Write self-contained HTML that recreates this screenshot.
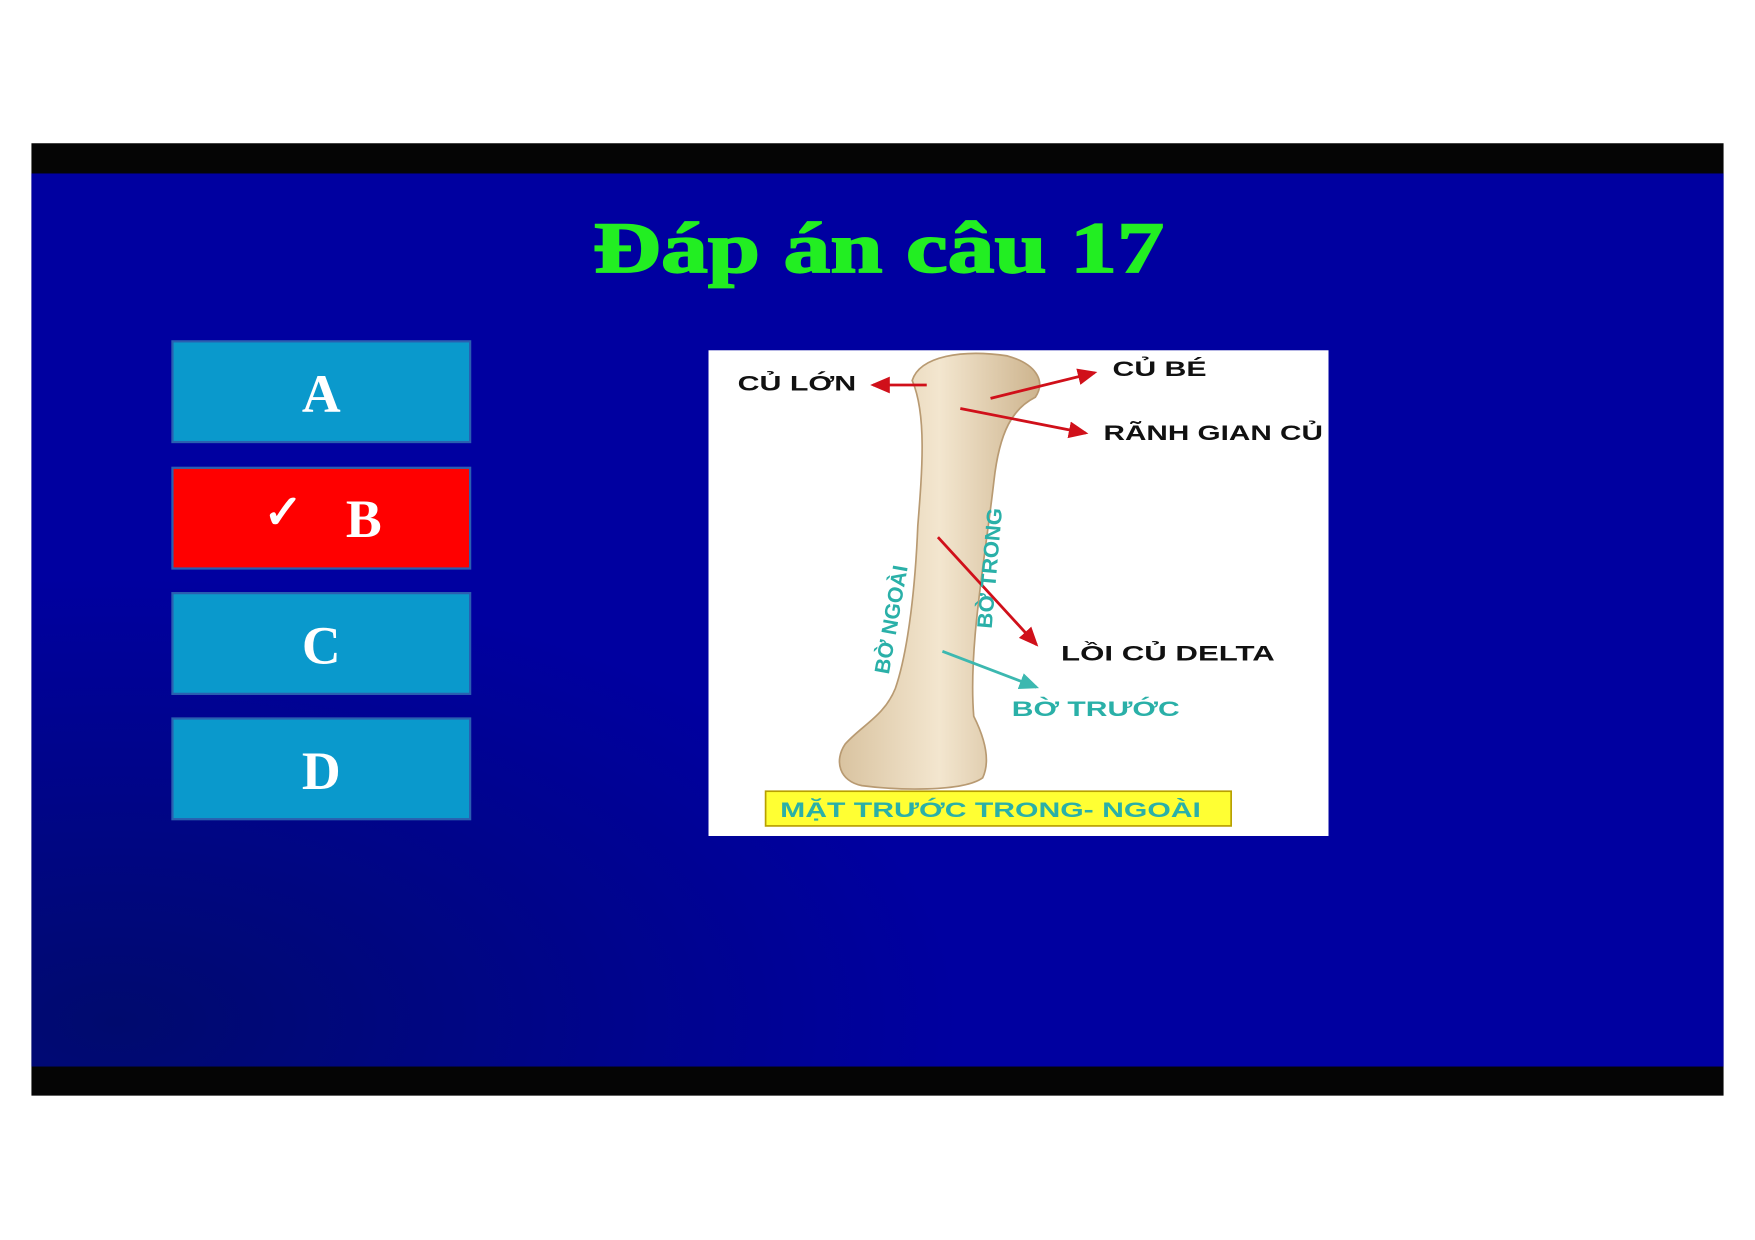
<!DOCTYPE html>
<html><head><meta charset="utf-8"><style>
html,body{margin:0;padding:0;background:#fff;}
svg{display:block;}
</style></head><body>
<svg width="1755" height="1240" viewBox="0 0 1568 1108" xmlns="http://www.w3.org/2000/svg">
<defs>
<radialGradient id="bg" cx="0.05" cy="0.95" r="0.5">
<stop offset="0" stop-color="#000a6e"/><stop offset="1" stop-color="#0000a0"/>
</radialGradient>
<linearGradient id="bone" x1="0" y1="0" x2="1" y2="0">
<stop offset="0" stop-color="#d9c3a0"/><stop offset="0.5" stop-color="#f3e6cf"/><stop offset="1" stop-color="#cdb48e"/>
</linearGradient>
<marker id="ar" markerWidth="8" markerHeight="8" refX="6" refY="3" orient="auto"><path d="M0,0 L7,3 L0,6 z" fill="#d0101a"/></marker>
<marker id="at" markerWidth="8" markerHeight="8" refX="6" refY="3" orient="auto"><path d="M0,0 L7,3 L0,6 z" fill="#3cb8b0"/></marker>
</defs>
<rect x="28" y="128" width="1512" height="851" fill="#050505"/>
<rect x="28" y="155" width="1512" height="798" fill="url(#bg)"/>
<text x="530" y="243" textLength="510" lengthAdjust="spacingAndGlyphs" font-family="Liberation Serif, serif" font-weight="bold" font-size="64" fill="#22ee22" stroke="#22ee22" stroke-width="1.5">Đáp án câu 17</text>

<g font-family="Liberation Serif, serif" font-weight="bold" font-size="48" fill="#fff" text-anchor="middle">
<rect x="154" y="305" width="266" height="90" fill="#0a99cc" stroke="#2a5fb0" stroke-width="2"/>
<text x="287" y="368">A</text>
<rect x="154" y="418" width="266" height="90" fill="#ff0000" stroke="#2a5fb0" stroke-width="2"/>
<text x="253" y="472" font-size="42">✓</text>
<text x="325" y="480">B</text>
<rect x="154" y="530" width="266" height="90" fill="#0a99cc" stroke="#2a5fb0" stroke-width="2"/>
<text x="287" y="593">C</text>
<rect x="154" y="642" width="266" height="90" fill="#0a99cc" stroke="#2a5fb0" stroke-width="2"/>
<text x="287" y="705">D</text>
</g>

<g>
<rect x="633" y="313" width="554" height="434" fill="#fff"/>
<path d="M815,340 C822,318 860,312 900,318 C925,325 935,340 925,355 C905,365 893,385 888,430 C880,500 865,580 870,640 C880,660 885,680 878,695 C860,708 800,706 770,702 C750,698 745,680 755,665 C770,648 790,640 800,615 C812,580 818,520 820,470 C824,420 828,370 815,340 Z" fill="url(#bone)" stroke="#b89a72" stroke-width="1.5"/>
<g stroke="#d0101a" stroke-width="2.5" fill="none">
<line x1="828" y1="344" x2="780" y2="344" marker-end="url(#ar)"/>
<line x1="885" y1="356" x2="978" y2="333" marker-end="url(#ar)"/>
<line x1="858" y1="365" x2="970" y2="387" marker-end="url(#ar)"/>
<line x1="838" y1="480" x2="926" y2="576" marker-end="url(#ar)"/>
</g>
<line x1="842" y1="582" x2="926" y2="614" stroke="#3cb8b0" stroke-width="2.5" marker-end="url(#at)"/>
<g font-family="Liberation Sans, sans-serif" font-weight="bold" font-size="19" fill="#111">
<text x="659" y="349" textLength="106" lengthAdjust="spacingAndGlyphs">CỦ LỚN</text>
<text x="994" y="336" textLength="84" lengthAdjust="spacingAndGlyphs">CỦ BÉ</text>
<text x="986" y="393" textLength="196" lengthAdjust="spacingAndGlyphs">RÃNH GIAN CỦ</text>
<text x="948" y="590" textLength="191" lengthAdjust="spacingAndGlyphs">LỒI CỦ DELTA</text>
</g>
<g font-family="Liberation Sans, sans-serif" font-weight="bold" font-size="19" fill="#2ab0a8">
<text x="904" y="640" textLength="150" lengthAdjust="spacingAndGlyphs">BỜ TRƯỚC</text>
<text transform="translate(794,603) rotate(-80)" textLength="98" lengthAdjust="spacingAndGlyphs">BỜ NGOÀI</text>
<text transform="translate(886,562) rotate(-85)" textLength="108" lengthAdjust="spacingAndGlyphs">BỜ TRONG</text>
</g>
<rect x="684" y="707" width="416" height="31" fill="#ffff33" stroke="#b8a000" stroke-width="1.5"/>
<text x="697" y="730" textLength="376" lengthAdjust="spacingAndGlyphs" font-family="Liberation Sans, sans-serif" font-weight="bold" font-size="19" fill="#2ab0a8">MẶT TRƯỚC TRONG- NGOÀI</text>
</g>
</svg>
</body></html>
